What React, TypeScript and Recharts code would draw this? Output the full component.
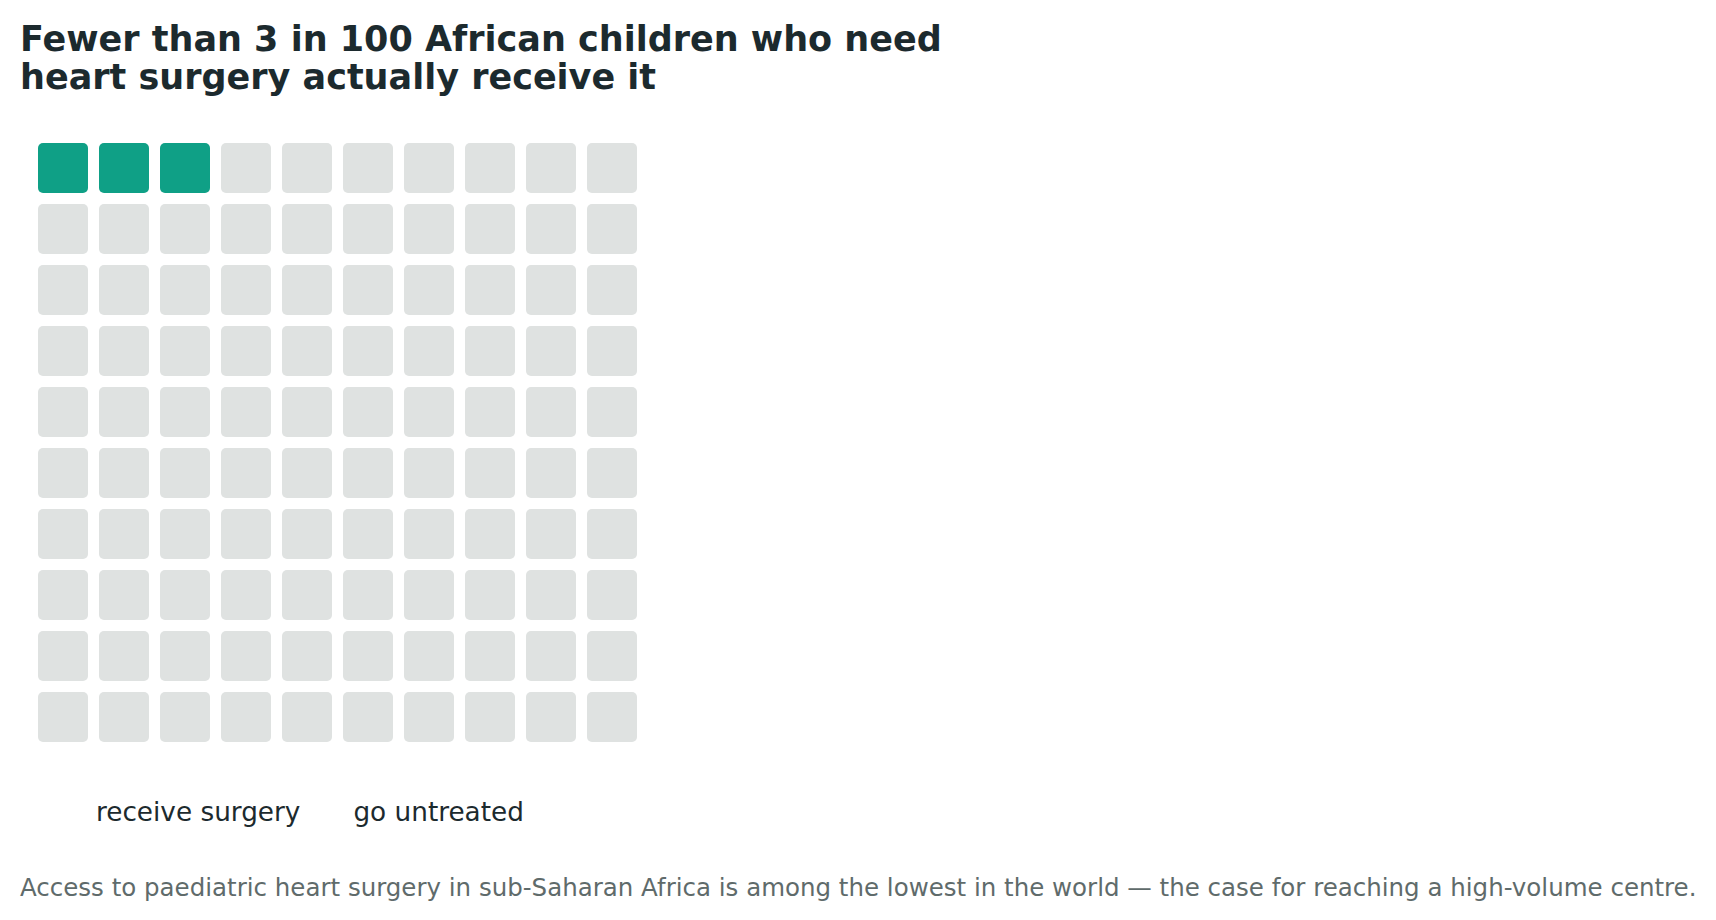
import { Scatter, ScatterChart, XAxis, YAxis } from 'recharts';

// waffle: 10 x 10, one cell per child out of 100
const CATEGORIES = ['receive surgery', 'go untreated'];
const COUNTS = [3, 97];
const COLORS = ['#0fa086', '#dfe2e1'];
const GRID_COLS = 10;

const TITLE = ['Fewer than 3 in 100 African children who need', 'heart surgery actually receive it'];
const FOOTNOTE =
  'Access to paediatric heart surgery in sub-Saharan Africa is among the lowest in the world — the case for reaching a high-volume centre.';

type Cell = { col: number; row: number };

function buildCells() {
  const groups: Cell[][] = CATEGORIES.map(() => []);
  let i = 0;
  COUNTS.forEach((n, g) => {
    for (let k = 0; k < n; k++, i++) {
      groups[g].push({ col: i % GRID_COLS, row: Math.floor(i / GRID_COLS) });
    }
  });
  return groups;
}

const CELL = 50;

function Square(props: any) {
  const { cx, cy, fill } = props;
  return <rect x={cx - CELL / 2} y={cy - CELL / 2} width={CELL} height={CELL} rx={5} ry={5} fill={fill} />;
}

export default function App() {
  const groups = buildCells();
  const font = '"DejaVu Sans", sans-serif';
  return (
    <div style={{ position: 'absolute', left: 0, top: 0, width: 1716, height: 920, background: '#fff', fontFamily: font }}>
      <div
        style={{
          position: 'absolute', left: 20, top: 21, fontSize: 35, fontWeight: 700, lineHeight: '37.5px', color: '#1c2a2e',
          whiteSpace: 'nowrap',
        }}
      >
        {TITLE.map((t) => (
          <div key={t}>{t}</div>
        ))}
      </div>
      <ScatterChart width={1716} height={920} margin={{ left: 32.5, right: 1073.5, top: 137.5, bottom: 172.5 }} style={{ position: 'absolute', left: 0, top: 0 }}>
        <XAxis type="number" dataKey="col" domain={[-0.5, 9.5]} hide />
        <YAxis type="number" dataKey="row" domain={[-0.5, 9.5]} reversed hide />
        {groups.map((cells, g) => (
          <Scatter key={CATEGORIES[g]} name={CATEGORIES[g]} data={cells} fill={COLORS[g]} shape={Square} isAnimationActive={false} />
        ))}
      </ScatterChart>
      {/* legend: the reference shows only the labels, no swatches */}
      <div style={{ position: 'absolute', left: 96, top: 797, display: 'flex', gap: 53, fontSize: 26.3, color: '#1c2a2e', whiteSpace: 'nowrap' }}>
        {CATEGORIES.map((c) => (
          <span key={c}>{c}</span>
        ))}
      </div>
      <div style={{ position: 'absolute', left: 20, top: 873, fontSize: 24.5, color: '#5f6b6b', whiteSpace: 'nowrap' }}>{FOOTNOTE}</div>
    </div>
  );
}
